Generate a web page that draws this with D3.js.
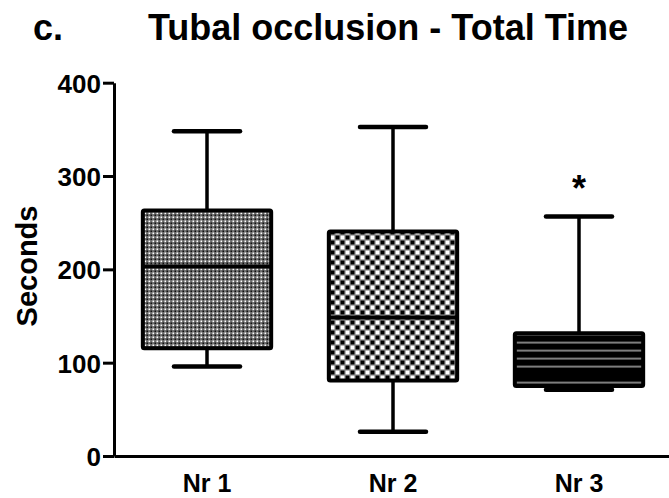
<!DOCTYPE html>
<html>
<head>
<meta charset="utf-8">
<script src="https://cdn.jsdelivr.net/npm/d3@7"></script>
<style>
  body { margin: 0; background: #fff; }
  text { font-family: "Liberation Sans", Arial, sans-serif; font-weight: bold; fill: #000; }
</style>
</head>
<body>
<script>
// box plot values (seconds)
const categories = ["Nr 1", "Nr 2", "Nr 3"];
const whiskerLow = [96, 26, 71];
const q1 = [115.5, 81, 75];
const median = [203, 148.5, 87];
const q3 = [263, 240.5, 131.5];
const whiskerHigh = [348, 352.5, 256.5];
const marks = ["", "", "*"];
const yTicks = [0, 100, 200, 300, 400];
const fills = ["url(#dots)", "url(#checks)", "url(#lines)"];

const svg = d3.select("body").append("svg")
  .attr("width", 669)
  .attr("height", 498);

const x = d3.scaleBand().domain(categories).range([114, 672]);
const y = d3.scaleLinear().domain([0, 400]).range([456, 82.7]);

/**
 * fill patterns for the three boxes
 */
const defs = svg.append("defs");

const dots = defs.append("pattern").attr("id", "dots")
  .attr("patternUnits", "userSpaceOnUse").attr("width", 4).attr("height", 4);
dots.append("rect").attr("width", 4).attr("height", 4).attr("fill", "#6a6a6a");
dots.append("rect").attr("x", 0.5).attr("y", 0.5).attr("width", 1.6).attr("height", 1.6).attr("fill", "#fff");
dots.append("rect").attr("x", 2.5).attr("y", 2.5).attr("width", 1.6).attr("height", 1.6).attr("fill", "#111");

const checks = defs.append("pattern").attr("id", "checks")
  .attr("patternUnits", "userSpaceOnUse").attr("width", 10).attr("height", 10);
checks.append("rect").attr("width", 10).attr("height", 10).attr("fill", "#888");
checks.append("rect").attr("x", 0.6).attr("y", 0.6).attr("width", 3.8).attr("height", 3.8).attr("fill", "#000");
checks.append("rect").attr("x", 5.6).attr("y", 5.6).attr("width", 3.8).attr("height", 3.8).attr("fill", "#000");
checks.append("rect").attr("x", 5.6).attr("y", 0.6).attr("width", 3.8).attr("height", 3.8).attr("fill", "#fff");
checks.append("rect").attr("x", 0.6).attr("y", 5.6).attr("width", 3.8).attr("height", 3.8).attr("fill", "#fff");

const lineStart = y(121.5) % 8;
const lines = defs.append("pattern").attr("id", "lines")
  .attr("patternUnits", "userSpaceOnUse").attr("width", 8).attr("height", 8)
  .attr("y", lineStart - 4);
lines.append("rect").attr("width", 8).attr("height", 8).attr("fill", "#000");
lines.append("rect").attr("x", 0).attr("y", 3.3).attr("width", 8).attr("height", 1.4).attr("fill", "#b4b4b4");

/**
 * axes
 */
const yAxis = svg.append("g")
  .attr("transform", "translate(114,0)")
  .call(d3.axisLeft(y).tickValues(yTicks).tickSize(11).tickSizeOuter(0).tickPadding(2));
yAxis.selectAll("path, line").attr("stroke", "#000").attr("stroke-width", 3);
yAxis.selectAll("text").style("font-size", "26px").attr("dy", "0.36em");

const xAxis = svg.append("g")
  .attr("transform", "translate(0,456)")
  .call(d3.axisBottom(x).tickSize(0).tickSizeOuter(0).tickPadding(18));
xAxis.select(".domain").attr("stroke", "#000").attr("stroke-width", 3);
xAxis.selectAll("text").style("font-size", "25px");

svg.append("text")
  .attr("transform", "translate(37,266) rotate(-90)")
  .attr("text-anchor", "middle")
  .style("font-size", "29px")
  .text("Seconds");

svg.append("text")
  .attr("x", 33).attr("y", 40)
  .style("font-size", "36px")
  .text("c.");

svg.append("text")
  .attr("x", 148).attr("y", 40)
  .style("font-size", "36px")
  .text("Tubal occlusion - Total Time");

/**
 * boxes and whiskers
 */
const bw = x.bandwidth() * 0.69;
const cw = x.bandwidth() * 0.355;

categories.forEach(function(c, i) {
  const cx = x(c) + x.bandwidth() / 2;
  const g = svg.append("g").attr("class", "box");

  g.append("line")
    .attr("x1", cx).attr("x2", cx)
    .attr("y1", y(whiskerHigh[i])).attr("y2", y(whiskerLow[i]))
    .attr("stroke", "#000").attr("stroke-width", 3.5);

  [whiskerHigh[i], whiskerLow[i]].forEach(function(v) {
    g.append("line")
      .attr("x1", cx - cw / 2).attr("x2", cx + cw / 2)
      .attr("y1", y(v)).attr("y2", y(v))
      .attr("stroke", "#000").attr("stroke-width", 4.5)
      .attr("stroke-linecap", "round");
  });

  g.append("rect")
    .attr("x", cx - bw / 2).attr("width", bw)
    .attr("y", y(q3[i])).attr("height", y(q1[i]) - y(q3[i]))
    .attr("fill", fills[i])
    .attr("stroke", "#000").attr("stroke-width", 4)
    .attr("rx", 1.5);

  g.append("line")
    .attr("x1", cx - bw / 2).attr("x2", cx + bw / 2)
    .attr("y1", y(median[i])).attr("y2", y(median[i]))
    .attr("stroke", "#000").attr("stroke-width", 4);

  if (marks[i]) {
    g.append("text")
      .attr("x", cx).attr("y", 201)
      .attr("text-anchor", "middle")
      .style("font-size", "36px")
      .text(marks[i]);
  }
});
</script>
</body>
</html>
